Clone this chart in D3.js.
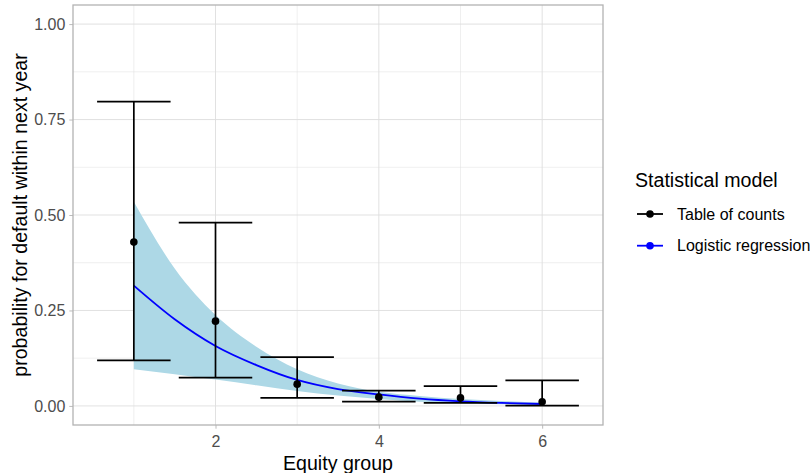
<!DOCTYPE html>
<html>
<head>
<meta charset="utf-8">
<script src="https://cdn.jsdelivr.net/npm/d3@7"></script>
<style>
  body { margin: 0; background: #ffffff; }
  svg { display: block; }
  text { font-family: "Liberation Sans", Arial, sans-serif; }
</style>
</head>
<body>
<svg id="chart" width="812" height="473"></svg>
<script>
// Equity groups and the table-of-counts estimates with their intervals
const groups = [1, 2, 3, 4, 5, 6];
const countEstimate = [0.429, 0.222, 0.057, 0.023, 0.021, 0.011];
const countLower = [0.119, 0.074, 0.021, 0.011, 0.008, 0.001];
const countUpper = [0.797, 0.480, 0.128, 0.040, 0.052, 0.067];

// Logistic regression fit and its confidence band
const fitX = [1, 1.5, 2, 2.5, 3, 3.5, 4, 4.5, 5, 5.5, 6];
const fitProb = [0.315, 0.227, 0.157, 0.107, 0.068, 0.044, 0.030, 0.019, 0.012, 0.0078, 0.005];
const fitLower = [0.096, 0.083, 0.069, 0.054, 0.039, 0.027, 0.018, 0.011, 0.007, 0.0045, 0.002];
const fitUpper = [0.535, 0.360, 0.238, 0.155, 0.096, 0.059, 0.037, 0.026, 0.018, 0.013, 0.009];

// Axis ticks
const xTicks = [2, 4, 6];
const xTickLabels = ["2", "4", "6"];
const xMinorTicks = [1, 3, 5];
const yTicks = [0, 0.25, 0.5, 0.75, 1];
const yTickLabels = ["0.00", "0.25", "0.50", "0.75", "1.00"];
const yMinorTicks = [0.125, 0.375, 0.625, 0.875];

// Legend
const legendTitle = "Statistical model";
const legendLabels = ["Table of counts", "Logistic regression"];
const legendColors = ["#000000", "#0000ff"];

const panel = { left: 73, right: 603, top: 5, bottom: 425 };
const titleSize = "19.6px";
const smallSize = "16px";
const svg = d3.select("#chart");

svg.append("rect").attr("width", 812).attr("height", 473).attr("fill", "#ffffff");

const x = d3.scaleLinear().domain([0.255, 6.745]).range([panel.left, panel.right]);
const y = d3.scaleLinear().domain([-0.05, 1.05]).range([panel.bottom, panel.top]);

// Grid
const grid = svg.append("g");
grid.selectAll(".xminor").data(xMinorTicks).join("line")
  .attr("x1", d => x(d)).attr("x2", d => x(d))
  .attr("y1", panel.top).attr("y2", panel.bottom)
  .attr("stroke", "#dedede").attr("stroke-width", 0.5);
grid.selectAll(".yminor").data(yMinorTicks).join("line")
  .attr("y1", d => y(d)).attr("y2", d => y(d))
  .attr("x1", panel.left).attr("x2", panel.right)
  .attr("stroke", "#dedede").attr("stroke-width", 0.5);
grid.selectAll(".xmajor").data(xTicks).join("line")
  .attr("x1", d => x(d)).attr("x2", d => x(d))
  .attr("y1", panel.top).attr("y2", panel.bottom)
  .attr("stroke", "#dedede").attr("stroke-width", 0.9);
grid.selectAll(".ymajor").data(yTicks).join("line")
  .attr("y1", d => y(d)).attr("y2", d => y(d))
  .attr("x1", panel.left).attr("x2", panel.right)
  .attr("stroke", "#dedede").attr("stroke-width", 0.9);

// Confidence band of the logistic fit
const fitRows = fitX.map((v, i) => ({ x: v, p: fitProb[i], lo: fitLower[i], hi: fitUpper[i] }));
svg.append("path")
  .datum(fitRows)
  .attr("fill", "#add8e6")
  .attr("d", d3.area().curve(d3.curveMonotoneX)
    .x(d => x(d.x)).y0(d => y(d.lo)).y1(d => y(d.hi)));

// Fitted probability curve
svg.append("path")
  .datum(fitRows)
  .attr("fill", "none")
  .attr("stroke", "#0000ff")
  .attr("stroke-width", 1.8)
  .attr("d", d3.line().curve(d3.curveMonotoneX).x(d => x(d.x)).y(d => y(d.p)));

// Error bars for the table of counts
const countRows = groups.map((g, i) => ({ g, est: countEstimate[i], lo: countLower[i], hi: countUpper[i] }));
const capHalf = 0.45;
const bars = svg.append("g").attr("stroke", "#000000").attr("stroke-width", 1.7);
bars.selectAll(".stem").data(countRows).join("line")
  .attr("x1", d => x(d.g)).attr("x2", d => x(d.g))
  .attr("y1", d => y(d.lo)).attr("y2", d => y(d.hi));
bars.selectAll(".capHi").data(countRows).join("line")
  .attr("x1", d => x(d.g - capHalf)).attr("x2", d => x(d.g + capHalf))
  .attr("y1", d => y(d.hi)).attr("y2", d => y(d.hi));
bars.selectAll(".capLo").data(countRows).join("line")
  .attr("x1", d => x(d.g - capHalf)).attr("x2", d => x(d.g + capHalf))
  .attr("y1", d => y(d.lo)).attr("y2", d => y(d.lo));

svg.append("g").selectAll("circle").data(countRows).join("circle")
  .attr("cx", d => x(d.g)).attr("cy", d => y(d.est))
  .attr("r", 3.8).attr("fill", "#000000");

// Panel border
svg.append("rect")
  .attr("x", panel.left).attr("y", panel.top)
  .attr("width", panel.right - panel.left).attr("height", panel.bottom - panel.top)
  .attr("fill", "none").attr("stroke", "#b3b3b3").attr("stroke-width", 1.3);

// Axes
const yAxis = svg.append("g")
  .attr("transform", `translate(${panel.left},0)`)
  .call(d3.axisLeft(y).tickValues(yTicks).tickFormat((d, i) => yTickLabels[i]).tickSize(3.7).tickPadding(4));
const xAxis = svg.append("g")
  .attr("transform", `translate(0,${panel.bottom})`)
  .call(d3.axisBottom(x).tickValues(xTicks).tickFormat((d, i) => xTickLabels[i]).tickSize(3.7).tickPadding(7.2));
[yAxis, xAxis].forEach(a => {
  a.select(".domain").remove();
  a.selectAll(".tick line").attr("stroke", "#b3b3b3").attr("stroke-width", 0.9);
  a.selectAll(".tick text")
    .attr("fill", "#4d4d4d")
    .style("font-size", smallSize)
    .style("font-family", "'Liberation Sans', Arial, sans-serif");
});

// Axis titles
svg.append("text")
  .attr("x", (panel.left + panel.right) / 2).attr("y", 470)
  .attr("text-anchor", "middle")
  .attr("fill", "#000000")
  .style("font-size", titleSize)
  .text("Equity group");
svg.append("text")
  .attr("transform", `translate(27,${(panel.top + panel.bottom) / 2}) rotate(-90)`)
  .attr("text-anchor", "middle")
  .attr("fill", "#000000")
  .style("font-size", titleSize)
  .text("probability for default within next year");

// Legend
const legend = svg.append("g");
legend.append("text")
  .attr("x", 635).attr("y", 186.5)
  .attr("fill", "#000000")
  .style("font-size", titleSize)
  .text(legendTitle);
const keyY = [214, 245.7];
legendLabels.forEach((label, i) => {
  legend.append("line")
    .attr("x1", 637).attr("x2", 663)
    .attr("y1", keyY[i]).attr("y2", keyY[i])
    .attr("stroke", legendColors[i]).attr("stroke-width", 1.8);
  legend.append("circle")
    .attr("cx", 650).attr("cy", keyY[i]).attr("r", 3.8)
    .attr("fill", legendColors[i]);
  legend.append("text")
    .attr("x", 677).attr("y", keyY[i] + 5.7)
    .attr("fill", "#000000")
    .style("font-size", smallSize)
    .text(label);
});
</script>
</body>
</html>
